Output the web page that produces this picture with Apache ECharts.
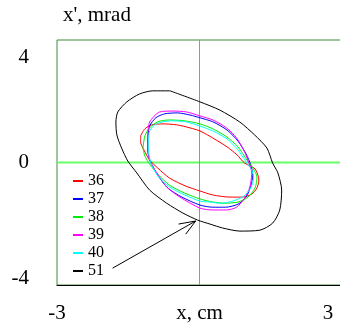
<!DOCTYPE html>
<html>
<head>
<meta charset="utf-8">
<script src="https://cdn.jsdelivr.net/npm/echarts@6/dist/echarts.min.js"></script>
<style>
  html, body { margin: 0; padding: 0; background: #fff; }
  #main { width: 340px; height: 331px; }
</style>
</head>
<body>
<div id="main"></div>
<script>
// curve names (legend)
const names = ["36", "37", "38", "39", "40", "51"];
const colors = ["#ff0000", "#0000ff", "#00ee00", "#ff00ff", "#00ffff", "#000000"];

// phase-space contours: [x (cm), x' (mrad)]
const c36 = [[-1.24,0.87],[-1.15,1.10],[-1.01,1.23],[-0.77,1.26],[-0.48,1.23],[-0.20,1.13],[0.01,1.03],[0.28,0.80],[0.58,0.51],[0.79,0.25],[0.95,-0.02],[1.17,-0.21],[1.25,-0.57],[1.21,-0.83],[1.10,-1.03],[0.91,-1.13],[0.64,-1.13],[0.28,-1.06],[0.01,-0.93],[-0.29,-0.77],[-0.63,-0.51],[-0.88,-0.18],[-1.05,0.08],[-1.17,0.41],[-1.24,0.67],[-1.24,0.87]];
const c37 = [[-1.09,0.80],[-1.05,1.19],[-0.92,1.46],[-0.73,1.59],[-0.46,1.62],[-0.20,1.55],[0.01,1.46],[0.28,1.33],[0.58,1.06],[0.81,0.70],[0.98,0.28],[1.08,-0.08],[1.12,-0.41],[1.08,-0.77],[0.98,-1.13],[0.81,-1.36],[0.55,-1.46],[0.28,-1.46],[0.01,-1.39],[-0.37,-1.13],[-0.67,-0.83],[-0.88,-0.41],[-1.03,0.02],[-1.09,0.41],[-1.09,0.80]];
const c38 = [[-1.19,0.47],[-1.15,0.87],[-1.05,1.13],[-0.88,1.33],[-0.63,1.39],[-0.31,1.36],[0.01,1.26],[0.28,1.10],[0.58,0.83],[0.81,0.51],[1.00,0.08],[1.12,-0.18],[1.21,-0.47],[1.17,-0.83],[1.02,-1.13],[0.81,-1.29],[0.53,-1.33],[0.28,-1.29],[0.01,-1.19],[-0.31,-1.00],[-0.63,-0.74],[-0.88,-0.38],[-1.05,-0.05],[-1.15,0.21],[-1.19,0.47]];
const c39 = [[-1.09,0.90],[-1.05,1.32],[-0.84,1.65],[-0.56,1.68],[-0.27,1.65],[0.01,1.52],[0.28,1.39],[0.57,1.13],[0.78,0.80],[0.95,0.34],[1.04,-0.02],[1.10,-0.34],[1.06,-0.80],[0.95,-1.16],[0.78,-1.46],[0.57,-1.55],[0.28,-1.55],[0.01,-1.49],[-0.41,-1.13],[-0.69,-0.80],[-0.90,-0.34],[-1.05,0.08],[-1.09,0.47],[-1.09,0.90]];
const c40 = [[-1.07,0.67],[-1.05,1.03],[-0.94,1.23],[-0.77,1.33],[-0.58,1.36],[-0.29,1.33],[0.01,1.19],[0.28,1.03],[0.58,0.77],[0.81,0.41],[0.98,0.02],[1.10,-0.25],[1.14,-0.51],[1.08,-0.83],[0.93,-1.10],[0.70,-1.26],[0.43,-1.33],[0.22,-1.29],[0.01,-1.26],[-0.31,-1.06],[-0.63,-0.80],[-0.86,-0.47],[-1.01,-0.08],[-1.07,0.34],[-1.07,0.67]];
const c51 = [[-0.62,2.34],[0.01,1.98],[0.43,1.71],[0.85,1.32],[1.16,0.90],[1.42,0.47],[1.54,-0.02],[1.65,-0.34],[1.73,-0.90],[1.69,-1.55],[1.54,-1.98],[1.27,-2.21],[0.85,-2.24],[0.49,-2.14],[0.22,-2.01],[-0.04,-1.88],[-0.35,-1.65],[-0.69,-1.33],[-1.05,-0.90],[-1.32,-0.34],[-1.51,0.05],[-1.64,0.47],[-1.74,0.90],[-1.76,1.32],[-1.72,1.65],[-1.53,1.98],[-1.26,2.24],[-0.98,2.34],[-0.62,2.34]];
const curves = [c36, c37, c38, c39, c40, c51];

// arrow from the legend to curve 51
const arrowShaft = [[-1.83,-3.45],[-0.08,-1.91]];
const arrowHead = [[-0.44,-2.01],[-0.08,-1.91],[-0.29,-2.34]];

// zero cross lines
const vZero = [[0, -4], [0, 4]];
const hZero = [[-3, 0], [3, 0]];

const xTicks = [-3, 3];
const yTicks = [-4, 0, 4];

const chart = echarts.init(document.getElementById("main"));
const font = "Liberation Serif";
const fs = 21;

function plainLine(data, color, width, z) {
  return {
    type: "line",
    data: data,
    showSymbol: false,
    lineStyle: { width: width, color: color },
    itemStyle: { color: color },
    silent: true,
    z: z,
  };
}

const series = [
  plainLine(hZero, "#66ff66", 2, 1),
  plainLine(vZero, "#00ff00", 1, 1),
];

curves.forEach((pts, i) => {
  series.push({
    name: names[i],
    type: "line",
    data: pts,
    showSymbol: false,
    smooth: 0.25,
    color: colors[i],
    lineStyle: { width: 1, color: colors[i] },
    silent: true,
    z: 3,
  });
});

series.push(plainLine(arrowShaft, "#000", 1, 3));
series.push(plainLine(arrowHead, "#000", 1, 3));

chart.setOption({
  animation: false,
  backgroundColor: "#fff",
  textStyle: { fontFamily: font },
  grid: {
    left: 57, top: 40, right: -2, bottom: 46,
    containLabel: false,
    outerBoundsMode: "none",
    show: true, borderColor: "#3f8a3f", borderWidth: 1,
  },
  legend: {
    data: names,
    orient: "vertical",
    left: 73, top: 173,
    padding: 0,
    itemWidth: 10, itemHeight: 2, itemGap: 2,
    icon: "rect",
    selectedMode: false,
    textStyle: { fontFamily: font, fontSize: 16, color: "#000", lineHeight: 16, padding: [0, 0, 0, 0] },
  },
  xAxis: {
    type: "value", min: -3, max: 3, interval: 6,
    name: "x, cm", nameLocation: "middle", nameGap: 18,
    nameMoveOverlap: false,
    nameTextStyle: { fontFamily: font, fontSize: fs, color: "#000" },
    axisLine: { show: true, onZero: false, lineStyle: { color: "#000", width: 1 } },
    axisTick: { show: false },
    splitLine: { show: false },
    axisLabel: {
      margin: 18, fontFamily: font, fontSize: fs, color: "#000",
      formatter: (v) => (xTicks.indexOf(v) === xTicks.length - 1 ? "{r|" + v + "}" : String(v)),
      rich: { r: { fontFamily: font, fontSize: fs, color: "#000", padding: [0, 28, 0, 0] } },
    },
  },
  yAxis: {
    type: "value", min: -4, max: 4, interval: 4,
    // name drawn from the top of the axis, pushed right of the frame
    name: "x', mrad", nameLocation: "end", nameGap: 14,
    nameMoveOverlap: false,
    nameTextStyle: {
      fontFamily: font, fontSize: fs, color: "#000",
      align: "left", verticalAlign: "bottom",
      padding: [0, 0, 0, 6],
    },
    axisLine: { show: false, onZero: false },
    axisTick: { show: false },
    splitLine: { show: false },
    axisLabel: {
      margin: 28, fontFamily: font, fontSize: fs, color: "#000",
      formatter: (v) => {
        if (v === yTicks[yTicks.length - 1]) return "{t|" + v + "}";
        if (v === yTicks[0]) return "{b|" + v + "}";
        return String(v);
      },
      rich: {
        t: { fontFamily: font, fontSize: fs, color: "#000", padding: [34, 0, 0, 0] },
        b: { fontFamily: font, fontSize: fs, color: "#000", padding: [0, 0, 14, 0] },
      },
    },
  },
  series: series,
});
</script>
</body>
</html>
